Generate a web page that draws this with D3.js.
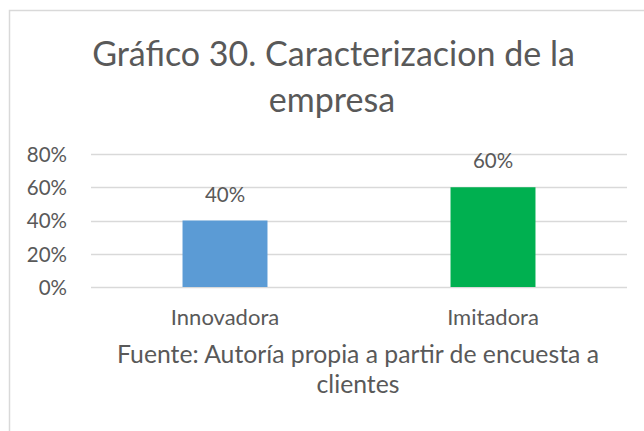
<!DOCTYPE html>
<html><head><meta charset="utf-8">
<script src="https://cdn.jsdelivr.net/npm/d3@7"></script>
<style>html,body{margin:0;padding:0;background:#fff;}svg{display:block;}</style>
</head><body>
<script>
const categories = ["Innovadora", "Imitadora"];
const values = [40, 60];
const barColors = ["#5B9BD5", "#00B050"];
const yTicks = [0, 20, 40, 60, 80];
const titleLines = ["Gráfico 30. Caracterizacion de la", "empresa"];
const sourceLines = ["Fuente: Autoría propia a partir de encuesta a", "clientes"];

const W = 644, H = 431;
const FONT = "Lato, 'Open Sans', sans-serif";
const TXT = "#595959";
const svg = d3.select("body").append("svg").attr("width", W).attr("height", H);
svg.append("rect").attr("width", W).attr("height", H).attr("fill", "#fff");

// chart border (top and left visible)
svg.append("path").attr("d", `M9.5,${H} V10.5 H${W}`).attr("fill", "none").attr("stroke", "#D9D9D9").attr("stroke-width", 1.5);

const x = d3.scaleBand().domain(categories).range([91, 627]).paddingInner(0.683).paddingOuter(0.3415);
const y = d3.scaleLinear().domain([0, 80]).range([287, 154]);

function fit(sel, target) {
  sel.attr("font-size", 20);
  const w = sel.node().getComputedTextLength();
  sel.attr("font-size", 20 * target / w);
}

// gridlines
svg.append("g").selectAll("line").data(yTicks).join("line")
  .attr("x1", 91).attr("x2", 627)
  .attr("y1", d => Math.round(y(d)) + 0.5).attr("y2", d => Math.round(y(d)) + 0.5)
  .attr("stroke", "#D9D9D9").attr("stroke-width", 1.5);

// y axis labels
const yAxis = svg.append("g").attr("transform", "translate(67,0)")
  .call(d3.axisLeft(y).tickValues(yTicks).tickFormat(d => d + "%").tickSize(0).tickPadding(0));
yAxis.select(".domain").remove();
yAxis.selectAll("text").attr("fill", TXT).attr("font-family", FONT).attr("dy", "0.36em").attr("font-size", 20.5);

// bars
svg.append("g").selectAll("rect").data(values).join("rect")
  .attr("x", (d, i) => x(categories[i])).attr("width", x.bandwidth())
  .attr("y", d => y(d)).attr("height", d => y(0) - y(d))
  .attr("fill", (d, i) => barColors[i]);

// data labels
svg.append("g").selectAll("text").data(values).join("text")
  .attr("x", (d, i) => x(categories[i]) + x.bandwidth() / 2)
  .attr("y", d => y(d) - 19)
  .attr("text-anchor", "middle").attr("fill", TXT).attr("font-family", FONT).attr("font-size", 20.5)
  .text(d => d + "%");

// x axis labels
const xAxis = svg.append("g").attr("transform", "translate(0,287)")
  .call(d3.axisBottom(x).tickSize(0).tickPadding(0));
xAxis.select(".domain").remove();
xAxis.selectAll("text").attr("fill", TXT).attr("font-family", FONT).attr("dy", null).attr("y", 38).attr("font-size", 22);

// title
const t1 = svg.append("text").attr("x", 333.5).attr("y", 66).attr("text-anchor", "middle")
  .attr("fill", TXT).attr("font-family", FONT).text(titleLines[0]);
fit(t1, 483);
const ts = +t1.attr("font-size");
svg.append("text").attr("x", 332).attr("y", 112).attr("text-anchor", "middle")
  .attr("fill", TXT).attr("font-family", FONT).attr("font-size", ts).text(titleLines[1]);

// source
const s1 = svg.append("text").attr("x", 358).attr("y", 363).attr("text-anchor", "middle")
  .attr("fill", TXT).attr("font-family", FONT).text(sourceLines[0]);
fit(s1, 482);
svg.append("text").attr("x", 358).attr("y", 393).attr("text-anchor", "middle")
  .attr("fill", TXT).attr("font-family", FONT).attr("font-size", +s1.attr("font-size")).text(sourceLines[1]);
</script>
</body></html>
